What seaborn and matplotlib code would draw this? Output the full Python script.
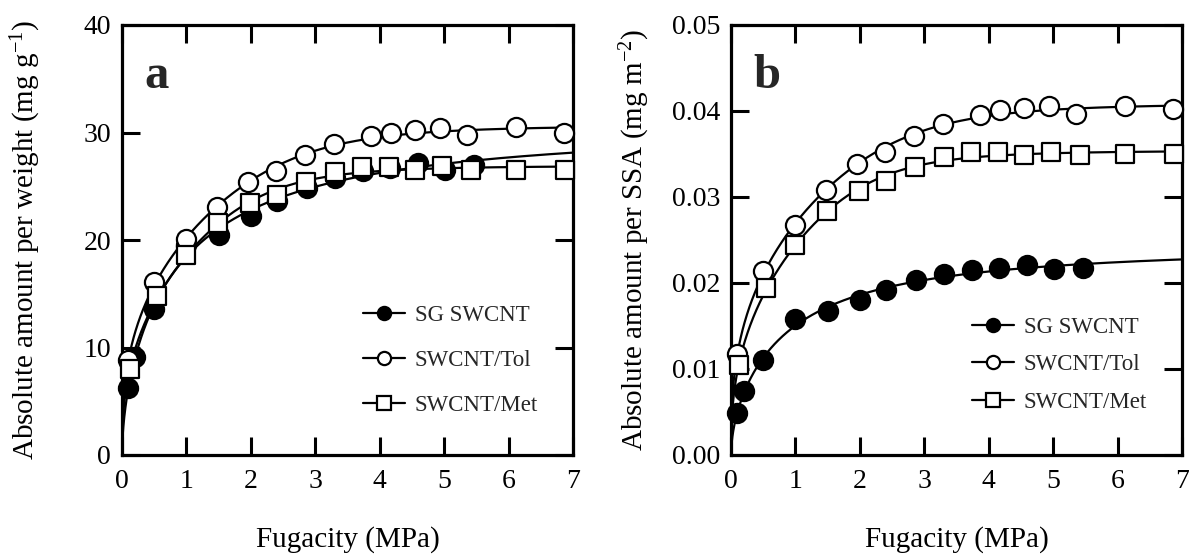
import numpy as np
import matplotlib
matplotlib.use("Agg")
import matplotlib.pyplot as plt
import seaborn as sns
from matplotlib.lines import Line2D

# ---------------- data ----------------
sg_x = [0.1, 0.2, 0.5, 1.0, 1.5, 2.0, 2.4, 2.87, 3.3, 3.74, 4.16, 4.6, 5.02, 5.46]
sg_w = [6.2, 9.1, 13.6, 19.5, 20.5, 22.2, 23.6, 24.8, 25.8, 26.4, 26.7, 27.2, 26.5, 27.0]
sg_s = [0.0049, 0.0074, 0.0110, 0.0158, 0.0167, 0.0180, 0.0192, 0.0203, 0.0211,
        0.0215, 0.0218, 0.0221, 0.0216, 0.0218]

tol_x = [0.1, 0.5, 1.0, 1.48, 1.96, 2.39, 2.84, 3.29, 3.87, 4.18, 4.54, 4.93, 5.35, 6.12, 6.86]
tol_w = [8.8, 16.1, 20.1, 23.1, 25.4, 26.4, 27.9, 28.9, 29.65, 30.0, 30.2, 30.4, 29.8, 30.5, 30.0]
tol_s = [0.0117, 0.0214, 0.0268, 0.0308, 0.0338, 0.0352, 0.0371, 0.0385, 0.0395,
         0.0401, 0.0403, 0.0406, 0.0397, 0.0406, 0.0402]

met_x = [0.12, 0.55, 1.0, 1.49, 1.98, 2.41, 2.86, 3.3, 3.72, 4.15, 4.55, 4.97, 5.41, 6.12, 6.87]
met_w = [8.0, 14.8, 18.6, 21.6, 23.4, 24.2, 25.4, 26.3, 26.8, 26.8, 26.5, 26.9, 26.5, 26.55, 26.55]
met_s = [0.0105, 0.0194, 0.0244, 0.0284, 0.0307, 0.0319, 0.0335, 0.0347, 0.0352,
         0.0352, 0.0349, 0.0352, 0.0349, 0.0350, 0.0350]

series_labels = ["SG SWCNT", "SWCNT/Tol", "SWCNT/Met"]
x_ticks = [0, 1, 2, 3, 4, 5, 6, 7]
w_ticks = [0, 10, 20, 30, 40]
s_ticks = [0.00, 0.01, 0.02, 0.03, 0.04, 0.05]


# ------------- isotherm fit (Sips/Toth hybrid, least squares on the data) -------------
def iso_fit(x, y):
    x = np.asarray(x, float)
    y = np.asarray(y, float)
    ns = np.linspace(0.2, 1.2, 26)[:, None, None, None]
    ts = np.exp(np.linspace(np.log(0.5), np.log(10.0), 36))[None, :, None, None]
    Ks = (10 ** np.linspace(-2, 3, 201))[None, None, :, None]
    u = (Ks * x) ** ns
    g = u / (1 + u ** ts) ** (1 / ts)
    qm = (g * y).sum(-1) / (g * g).sum(-1)
    res = ((qm[..., None] * g - y) ** 2).sum(-1)
    i, j, k = np.unravel_index(np.argmin(res), res.shape)
    n, t, K, q = ns.ravel()[i], ts.ravel()[j], Ks.ravel()[k], qm[i, j, k]

    def f(z):
        uu = (K * z) ** n
        return q * uu / (1 + uu ** t) ** (1 / t)
    return f


xx = np.concatenate([np.linspace(0, 0.2, 400), np.linspace(0.2, 7, 700)[1:]])

# ---------------- style ----------------
sns.set_theme(style="ticks")
plt.rcParams["font.family"] = ["Liberation Serif", "DejaVu Serif"]
plt.rcParams["mathtext.fontset"] = "custom"
plt.rcParams["mathtext.rm"] = "Liberation Serif"
plt.rcParams["mathtext.it"] = "Liberation Serif:italic"
plt.rcParams["axes.unicode_minus"] = False

fig = plt.figure(figsize=(11.89, 5.56), dpi=100)
ax_a = fig.add_axes([122 / 1189, 1 - 455 / 556, 451 / 1189, 430 / 556])
ax_b = fig.add_axes([731 / 1189, 1 - 455 / 556, 451 / 1189, 430 / 556])

styles = [dict(marker="o", facecolor="black"),
          dict(marker="o", facecolor="white"),
          dict(marker="s", facecolor="white")]


def draw_panel(ax, xs_list, ys_list, yticks, ylim, ylabel, letter, fmt, lspacing, leg_anchor):
    for xs, ys, st in zip(xs_list, ys_list, styles):
        f = iso_fit(xs, ys)
        sns.lineplot(x=xx, y=f(xx), ax=ax, color="black", lw=1.6, zorder=2,
                     estimator=None, sort=False)
        sns.scatterplot(x=xs, y=ys, ax=ax, marker=st["marker"], s=190 if st["marker"] == "o" else 170,
                        facecolor=st["facecolor"], edgecolor="black", linewidth=1.6, zorder=3,
                        clip_on=False)
    ax.set_xlim(0, 7)
    ax.set_ylim(*ylim)
    ax.set_xticks(x_ticks)
    ax.set_yticks(yticks)
    ax.set_xticklabels([str(t) for t in x_ticks])
    ax.set_yticklabels([fmt.format(t) for t in yticks])
    ax.tick_params(direction="in", length=13, width=2.2, top=True, right=True,
                   labelsize=20, pad=8, colors="black")
    ax.tick_params(axis="x", pad=10)
    for sp in ax.spines.values():
        sp.set_visible(True)
        sp.set_linewidth(2.3)
        sp.set_color("black")
    ax.set_xlabel("Fugacity (MPa)", fontsize=21, color="black")
    ax.xaxis.set_label_coords(0.5, -0.165)
    ax.set_ylabel(ylabel, fontsize=21, color="black")
    ax.yaxis.set_label_coords(-0.175, 0.5)
    ax.text(0.05, 0.853, letter, transform=ax.transAxes, fontsize=35,
            fontweight="bold", va="baseline", ha="left")
    handles = [Line2D([], [], color="black", lw=1.6, marker=st["marker"],
                      markerfacecolor=st["facecolor"], markeredgecolor="black",
                      markeredgewidth=1.6, markersize=9.5)
               for st in styles]
    ax.legend(handles, series_labels, loc="upper left", bbox_to_anchor=leg_anchor,
              frameon=False, fontsize=16.5, handlelength=1.8, handletextpad=0.45,
              labelspacing=lspacing, borderpad=0, borderaxespad=0)


draw_panel(ax_a, [sg_x, tol_x, met_x], [sg_w, tol_w, met_w], w_ticks, (0, 40),
           "Absolute amount per weight (mg g$^{-1}$)", "a", "{:g}", 1.05, (0.535, 0.35))
draw_panel(ax_b, [sg_x, tol_x, met_x], [sg_s, tol_s, met_s], s_ticks, (0, 0.05),
           "Absolute amount per SSA (mg m$^{-2}$)", "b", "{:.2f}", 0.72, (0.535, 0.322))

fig.savefig("out.png", dpi=100)
